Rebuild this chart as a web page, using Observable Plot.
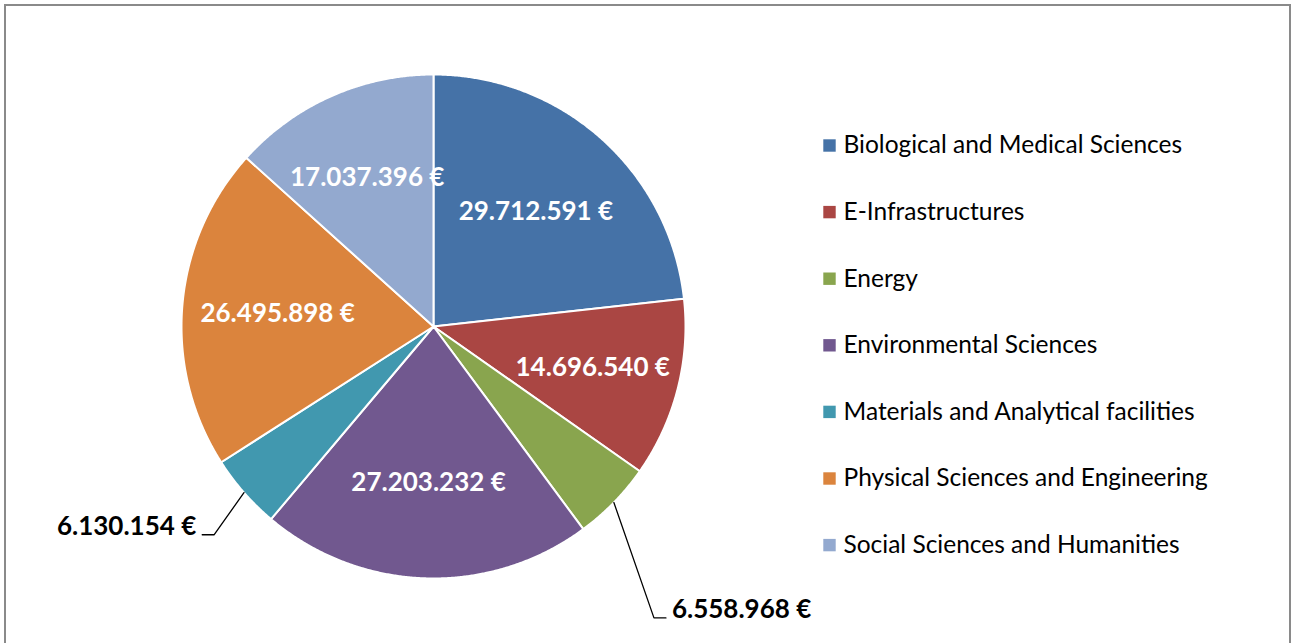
<!DOCTYPE html>
<html>
<head>
<meta charset="utf-8">
<script src="https://cdn.jsdelivr.net/npm/d3@7"></script>
<script src="https://cdn.jsdelivr.net/npm/@observablehq/plot@0.6"></script>
<style>
  html, body { margin: 0; padding: 0; background: #fff; }
  #wrap { position: relative; width: 1292px; height: 643px; overflow: hidden; }
  #border { position: absolute; left: 4px; top: 4px; width: 1283px; height: 660px;
            border: 2px solid #8a8a8a; pointer-events: none; }
  #chart { position: absolute; left: 0; top: 0; }
  svg { background: transparent !important; }
</style>
</head>
<body>
<div id="wrap"><div id="chart"></div><div id="border"></div></div>
<script>
// ---- data ----
const categories = [
  "Biological and Medical Sciences",
  "E-Infrastructures",
  "Energy",
  "Environmental Sciences",
  "Materials and Analytical facilities",
  "Physical Sciences and Engineering",
  "Social Sciences and Humanities"
];
const values = [29712591, 14696540, 6558968, 27203232, 6130154, 26495898, 17037396];
const colors = ["#4572A7", "#AA4643", "#89A54E", "#71588F", "#4198AF", "#DB843D", "#93A9CF"];

// ---- layout constants ----
const W = 1292, H = 643;
const cx = 433, cy = 326, R = 252;
const font = "Lato, 'Open Sans', sans-serif";
// leader geometry for outside labels (per side): angle shift (rad) and reach (× radius)
const leaderRight = {shift: 0.15, reach: 1.45};
const leaderLeft = {shift: -0.04, reach: 1.2};

const fmt = v => d3.format(",d")(v).replace(/,/g, ".") + " €";
const total = d3.sum(values);
const arcs = d3.pie().sort(null).value(d => d)(values);
const px = (a, r) => cx + r * Math.sin(a);
const py = (a, r) => cy - r * Math.cos(a);

// slice polygons
const slicePts = [];
arcs.forEach((a, i) => {
  const cat = categories[i];
  slicePts.push({cat, x: cx, y: cy});
  const n = Math.max(2, Math.ceil((a.endAngle - a.startAngle) / 0.005));
  for (let k = 0; k <= n; k++) {
    const t = a.startAngle + (a.endAngle - a.startAngle) * k / n;
    slicePts.push({cat, x: px(t, R), y: py(t, R)});
  }
});

// labels: inside at the slice centroid, small slices outside with a leader line
const inside = [], outRight = [], outLeft = [], leaders = [];
arcs.forEach((a, i) => {
  const mid = (a.startAngle + a.endAngle) / 2;
  const th = a.endAngle - a.startAngle;
  const label = fmt(values[i]);
  if (values[i] / total >= 0.06) {
    const rc = 4 * R * Math.sin(th / 2) / (3 * th);
    inside.push({label, x: px(mid, rc), y: py(mid, rc)});
  } else {
    const right = Math.sin(mid) >= 0;
    const L = right ? leaderRight : leaderLeft;
    const ang = mid + L.shift;
    const ex = px(ang, L.reach * R), ey = py(ang, L.reach * R);
    const hx = ex + (right ? 12 : -12);
    leaders.push({id: i, x: px(mid, R), y: py(mid, R)});
    leaders.push({id: i, x: ex, y: ey});
    leaders.push({id: i, x: hx, y: ey});
    (right ? outRight : outLeft).push({label, x: hx + (right ? 6 : -6), y: ey - 8});
  }
});

// legend
const legend = categories.map((c, i) => ({cat: c, x: 829, y: 145 + i * 66.6}));

const chart = Plot.plot({
  width: W, height: H,
  margin: 0,
  x: {domain: [0, W], range: [0, W], axis: null},
  y: {domain: [0, H], range: [0, H], axis: null},
  color: {type: "ordinal", domain: categories, range: colors},
  style: {fontFamily: font, background: "transparent"},
  marks: [
    Plot.line(slicePts, {x: "x", y: "y", z: "cat", fill: "cat", stroke: "#fff",
      strokeWidth: 2, curve: "linear-closed"}),
    Plot.text(inside, {x: "x", y: "y", text: "label", fill: "#fff", fontSize: 26,
      fontWeight: "bold", fontFamily: font}),
    Plot.line(leaders, {x: "x", y: "y", z: "id", stroke: "#000", strokeWidth: 1.3}),
    Plot.text(outRight, {x: "x", y: "y", text: "label", textAnchor: "start", fill: "#000",
      fontSize: 26, fontWeight: "bold", fontFamily: font}),
    Plot.text(outLeft, {x: "x", y: "y", text: "label", textAnchor: "end", fill: "#000",
      fontSize: 26, fontWeight: "bold", fontFamily: font}),
    Plot.dot(legend, {x: "x", y: "y", fill: "cat", symbol: "square", r: 7, stroke: null}),
    Plot.text(legend, {x: d => d.x + 14, y: "y", text: "cat", textAnchor: "start",
      fill: "#000", fontSize: 24.5, fontFamily: font})
  ]
});
document.getElementById("chart").appendChild(chart);
</script>
</body>
</html>
